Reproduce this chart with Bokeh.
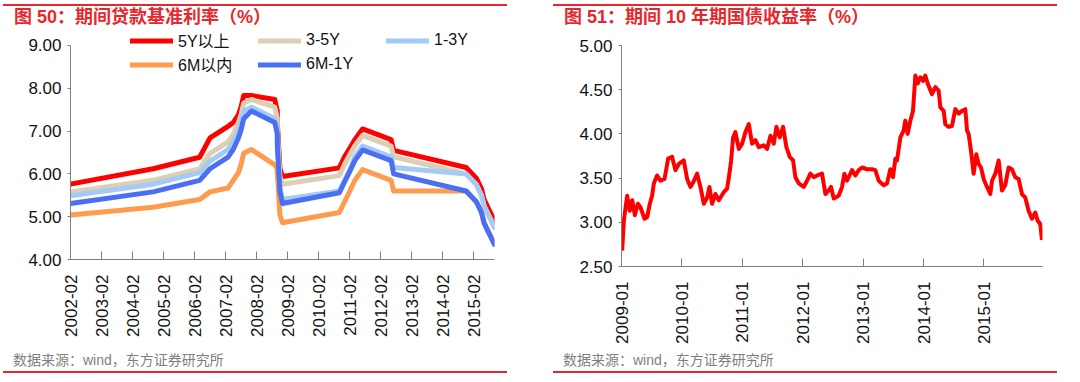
import pandas as pd
from bokeh.plotting import figure
from bokeh.models import (Range1d, FixedTicker, DatetimeTickFormatter, NumeralTickFormatter,
                          CustomJSTickFormatter, Legend, LegendItem, Div)
from bokeh.layouts import row, column
from bokeh.embed import file_html
from bokeh.resources import INLINE

# ---------------- data: benchmark lending rates (change points) ----------------
rate_dates = ["2002-02", "2004-10", "2006-04", "2006-08", "2007-03", "2007-05", "2007-07",
              "2007-08", "2007-09", "2007-12", "2008-09", "2008-10", "2008-10", "2008-11",
              "2008-12", "2010-10", "2010-12", "2011-02", "2011-04", "2011-07", "2012-06",
              "2012-07", "2014-11", "2015-03", "2015-05", "2015-06", "2015-08", "2015-10"]
rate_5y_plus = [5.76, 6.12, 6.39, 6.84, 7.11, 7.20, 7.38, 7.56, 7.83, 7.83, 7.74, 7.47, 7.20, 6.12,
                5.94, 6.14, 6.40, 6.60, 6.80, 7.05, 6.80, 6.55, 6.15, 5.90, 5.65, 5.40, 5.15, 4.90]
rate_3_5y = [5.58, 5.85, 6.12, 6.48, 6.75, 6.93, 7.20, 7.38, 7.65, 7.74, 7.56, 7.29, 7.02, 5.94,
             5.76, 5.96, 6.22, 6.45, 6.65, 6.90, 6.65, 6.40, 6.00, 5.75, 5.50, 5.25, 5.00, 4.75]
rate_1_3y = [5.49, 5.76, 6.03, 6.30, 6.57, 6.75, 7.02, 7.20, 7.47, 7.56, 7.29, 7.02, 6.75, 5.67,
             5.40, 5.60, 5.85, 6.10, 6.40, 6.65, 6.40, 6.15, 6.00, 5.75, 5.50, 5.25, 5.00, 4.75]
rate_6m = [5.04, 5.22, 5.40, 5.58, 5.67, 5.85, 6.03, 6.21, 6.48, 6.57, 6.21, 6.12, 6.03, 5.04,
           4.86, 5.10, 5.35, 5.60, 5.85, 6.10, 5.85, 5.60, 5.60, 5.35, 5.10, 4.85, 4.60, 4.35]
rate_6m_1y = [5.31, 5.58, 5.85, 6.12, 6.39, 6.57, 6.84, 7.02, 7.29, 7.47, 7.20, 6.93, 6.66, 5.58,
              5.31, 5.56, 5.81, 6.06, 6.31, 6.56, 6.31, 6.00, 5.60, 5.35, 5.10, 4.85, 4.60, 4.35]
rate_names = ["5Y以上", "3-5Y", "1-3Y", "6M以内", "6M-1Y"]
rate_ticks = ["2002-02", "2003-02", "2004-02", "2005-02", "2006-02", "2007-02", "2008-02",
              "2009-02", "2010-02", "2011-02", "2012-02", "2013-02", "2014-02", "2015-02"]

# ---------------- data: 10Y government bond yield (time in fractional years) ----------------
yld_t = [2009.011, 2009.039, 2009.094, 2009.138, 2009.177, 2009.221, 2009.270, 2009.314, 2009.381,
         2009.425, 2009.469, 2009.507, 2009.535, 2009.590, 2009.645, 2009.712, 2009.772, 2009.838,
         2009.894, 2009.949, 2010.031, 2010.087, 2010.142, 2010.186, 2010.252, 2010.307, 2010.362,
         2010.418, 2010.456, 2010.500, 2010.555, 2010.611, 2010.693, 2010.748, 2010.787, 2010.815,
         2010.848, 2010.886, 2010.942, 2010.997, 2011.052, 2011.107, 2011.162, 2011.217, 2011.273,
         2011.355, 2011.410, 2011.466, 2011.521, 2011.565, 2011.620, 2011.675, 2011.730, 2011.785,
         2011.841, 2011.879, 2011.934, 2012.017, 2012.072, 2012.127, 2012.183, 2012.238, 2012.320,
         2012.376, 2012.431, 2012.469, 2012.514, 2012.596, 2012.651, 2012.690, 2012.734, 2012.817,
         2012.872, 2012.927, 2012.982, 2013.065, 2013.148, 2013.203, 2013.258, 2013.341, 2013.396,
         2013.451, 2013.495, 2013.534, 2013.561, 2013.617, 2013.672, 2013.699, 2013.738, 2013.782,
         2013.826, 2013.865, 2013.904, 2013.948, 2013.992, 2014.030, 2014.069, 2014.141, 2014.196,
         2014.251, 2014.279, 2014.334, 2014.361, 2014.416, 2014.472, 2014.527, 2014.582, 2014.637,
         2014.692, 2014.720, 2014.747, 2014.786, 2014.830, 2014.874, 2014.913, 2014.952, 2014.996,
         2015.051, 2015.106, 2015.134, 2015.189, 2015.244, 2015.299, 2015.354, 2015.409, 2015.464,
         2015.520, 2015.575, 2015.630, 2015.685, 2015.740, 2015.795, 2015.851, 2015.889, 2015.933,
         2015.961]
yld_v = [2.68, 3.02, 3.30, 3.13, 3.25, 3.08, 3.21, 3.17, 3.04,
         3.06, 3.21, 3.30, 3.44, 3.53, 3.47, 3.49, 3.72, 3.74,
         3.59, 3.66, 3.70, 3.49, 3.40, 3.45, 3.55, 3.40, 3.21,
         3.28, 3.40, 3.21, 3.32, 3.25, 3.34, 3.38, 3.55, 3.70,
         3.96, 4.02, 3.83, 3.89, 4.02, 4.11, 3.89, 3.93, 3.85,
         3.87, 3.83, 3.98, 3.89, 4.08, 3.96, 4.08, 3.85, 3.74,
         3.70, 3.51, 3.44, 3.40, 3.47, 3.55, 3.51, 3.53, 3.55,
         3.32, 3.36, 3.40, 3.27, 3.30, 3.40, 3.55, 3.47, 3.59,
         3.53, 3.59, 3.62, 3.60, 3.60, 3.59, 3.47, 3.42, 3.44,
         3.60, 3.51, 3.72, 3.70, 3.96, 4.04, 4.15, 4.00, 4.15,
         4.26, 4.66, 4.57, 4.64, 4.60, 4.66, 4.57, 4.45, 4.53,
         4.49, 4.30, 4.26, 4.11, 4.08, 4.09, 4.28, 4.23, 4.26,
         4.28, 4.04, 4.00, 3.81, 3.55, 3.77, 3.66, 3.62, 3.49,
         3.40, 3.32, 3.47, 3.55, 3.70, 3.36, 3.42, 3.62, 3.60,
         3.51, 3.49, 3.32, 3.28, 3.13, 3.04, 3.11, 3.02, 2.98,
         2.80]
yld_ticks = [2009, 2010, 2011, 2012, 2013, 2014, 2015]

# ---------------- styles ----------------
RED_RULE = "#E8262B"
NUM_FONT = "Liberation Sans"
CJK_FONT = "'Liberation Sans','Noto Sans CJK SC'"
AXIS_COLOR = "#808080"
colors = ["#FF0000", "#DCCFB6", "#A3CBF5", "#FF9B4E", "#4A6FF3"]


def style_axes(p):
    p.xgrid.visible = False
    p.ygrid.visible = False
    p.outline_line_color = None
    p.background_fill_color = "white"
    p.border_fill_color = "white"
    for ax in (p.xaxis[0], p.yaxis[0]):
        ax.axis_line_color = AXIS_COLOR
        ax.major_tick_line_color = AXIS_COLOR
        ax.minor_tick_line_color = None
        ax.major_label_text_font = NUM_FONT
        ax.major_label_text_font_size = "17px"
        ax.major_label_text_color = "#111111"
    p.xaxis.major_tick_in = 8
    p.xaxis.major_tick_out = 0
    p.xaxis.major_label_standoff = 15
    p.xaxis.major_label_orientation = 3.14159265 / 2
    p.yaxis.major_tick_in = 0
    p.yaxis.major_tick_out = 3
    p.yaxis.major_label_standoff = 6
    p.yaxis.formatter = NumeralTickFormatter(format="0.00")


# ---------------- left chart ----------------
x_rate = pd.to_datetime(rate_dates, format="%Y-%m")
# y range extends a little above 9 so the legend's first row has room; the axis stops at 9
p1 = figure(width=540, height=322, output_backend="svg", toolbar_location=None,
            x_axis_type="datetime",
            x_range=Range1d(pd.Timestamp("2002-02-01"), pd.Timestamp("2015-10-01")),
            y_range=Range1d(4, 9.35),
            min_border_left=70, min_border_right=46, min_border_top=2, min_border_bottom=91)
style_axes(p1)
p1.yaxis.bounds = (4, 9)
p1.yaxis.ticker = FixedTicker(ticks=[4, 5, 6, 7, 8, 9])
tick_ms = [pd.Timestamp(t + "-01").value / 1e6 for t in rate_ticks]
p1.xaxis.ticker = FixedTicker(ticks=tick_ms)
p1.xaxis.formatter = DatetimeTickFormatter(years="%Y-%m", months="%Y-%m", days="%Y-%m",
                                           hours="%Y-%m", minutes="%Y-%m", seconds="%Y-%m",
                                           milliseconds="%Y-%m", microseconds="%Y-%m")

series = [rate_5y_plus, rate_3_5y, rate_1_3y, rate_6m, rate_6m_1y]
renderers = []
for vals, c in zip(series, colors):
    r = p1.line(x_rate, vals, line_color=c, line_width=5, line_join="round", line_cap="round")
    renderers.append(r)

legend = Legend(items=[LegendItem(label=n, renderers=[r]) for n, r in zip(rate_names, renderers)],
                location=(60, 183), orientation="horizontal", ncols=3,
                glyph_width=43, glyph_height=19, label_standoff=5, label_width=80,
                label_height=19, spacing=0, padding=0, margin=0,
                label_text_font=CJK_FONT, label_text_font_size="16px",
                label_text_color="#111111",
                border_line_color=None, background_fill_alpha=0)
p1.add_layout(legend, "center")

# ---------------- right chart ----------------
p2 = figure(width=540, height=322, output_backend="svg", toolbar_location=None,
            x_range=Range1d(2009.0, 2015.97), y_range=Range1d(2.5, 5.0),
            min_border_left=81, min_border_right=38, min_border_top=17, min_border_bottom=84)
style_axes(p2)
p2.yaxis.ticker = FixedTicker(ticks=[2.5, 3.0, 3.5, 4.0, 4.5, 5.0])
p2.xaxis.ticker = FixedTicker(ticks=yld_ticks)
p2.xaxis.formatter = CustomJSTickFormatter(code="return Math.round(tick) + '-01';")
p2.line(yld_t, yld_v, line_color="#FF0000", line_width=4, line_join="round")

# ---------------- titles & footers ----------------
def title_div(text, pad, width, ml):
    html = (f'<div style="display:block;box-sizing:border-box;width:{width}px;margin-top:4px;'
            f'border-top:2px solid {RED_RULE};height:24px;line-height:22px;'
            f'padding-left:{pad}px;color:{RED_RULE};font-family:{CJK_FONT};'
            f'font-size:18px;font-weight:bold;white-space:nowrap;">{text}</div>')
    return Div(text=html, width=width, height=28, margin=(0, 0, 0, ml))


def foot_div(pad, width, ml):
    html = (f'<div style="display:block;box-sizing:border-box;width:{width}px;'
            f'border-bottom:2px solid {RED_RULE};height:23px;line-height:21px;'
            f'padding-left:{pad}px;color:#7F7F7F;font-family:{CJK_FONT};'
            f'font-size:14px;white-space:nowrap;">数据来源：wind，东方证券研究所</div>')
    return Div(text=html, width=width, height=24, margin=(0, 0, 0, ml))


left = column(title_div("图 50：期间贷款基准利率（%）", 11, 504, 3), p1, foot_div(10, 504, 3))
right = column(title_div("图 51：期间 10 年期国债收益率（%）", 11, 504, 13), p2, foot_div(10, 504, 13))
layout = row(left, right)

html = file_html(layout, INLINE)
open("out.html", "w").write(html)
